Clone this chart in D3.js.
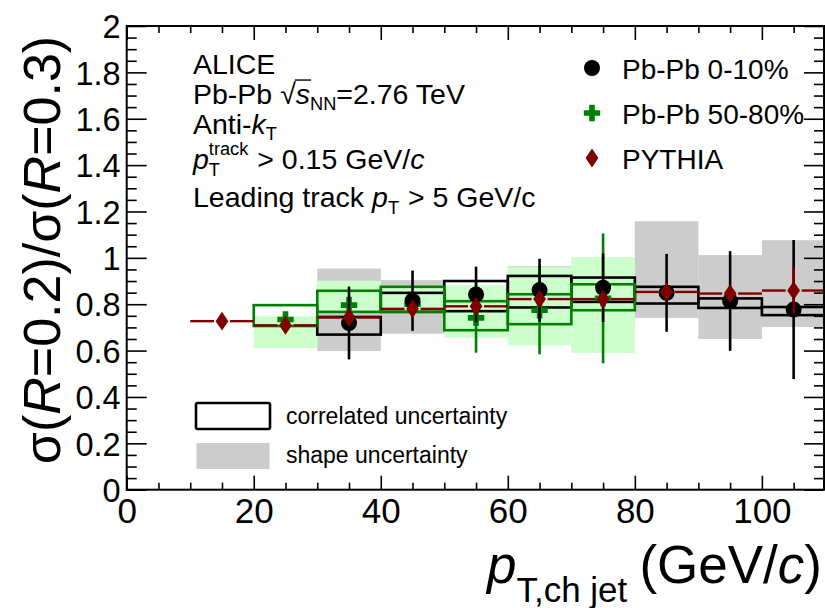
<!DOCTYPE html>
<html><head><meta charset="utf-8">
<script src="https://cdn.jsdelivr.net/npm/d3@7"></script>
<style>
body{margin:0;background:#fff}
svg{display:block}
text{font-family:"Liberation Sans",Arial,Helvetica,sans-serif;fill:#000;white-space:pre}
</style>
</head><body>
<svg id="c" width="825" height="608"></svg>
<script>
// ---------------- data ----------------
const binHalfWidth = 5;
const pythiaPt  = [15, 25, 35, 45, 55, 65, 75, 85, 95, 105];
const pythiaVal = [0.727, 0.709, 0.743, 0.780, 0.791, 0.822, 0.822, 0.853, 0.846, 0.859];
const pythiaErr = [0.006, 0.008, 0.010, 0.010, 0.012, 0.015, 0.015, 0.020, 0.025, 0.100];

const centralPt     = [35, 45, 55, 65, 75, 85, 95, 105];
const centralVal    = [0.719, 0.815, 0.842, 0.861, 0.871, 0.849, 0.814, 0.777];
const centralErr    = [0.157, 0.130, 0.120, 0.135, 0.148, 0.168, 0.215, 0.300];
const centralCorrLo = [0.669, 0.767, 0.770, 0.786, 0.810, 0.803, 0.784, 0.753];
const centralCorrHi = [0.745, 0.849, 0.900, 0.922, 0.915, 0.875, 0.825, 0.788];
const centralShapeLo = [0.598, 0.673, 0.670, 0.700, 0.700, 0.741, 0.650, 0.702];
const centralShapeHi = [0.954, 0.904, 0.870, 0.964, 0.950, 1.158, 1.012, 1.076];

const periphPt     = [25, 35, 45, 55, 65, 75];
const periphVal    = [0.734, 0.796, 0.800, 0.741, 0.774, 0.825];
const periphErr    = [0.030, 0.040, 0.040, 0.150, 0.190, 0.280];
const periphCorrLo = [0.706, 0.767, 0.767, 0.688, 0.714, 0.774];
const periphCorrHi = [0.796, 0.858, 0.875, 0.813, 0.843, 0.886];
const periphShapeLo = [0.611, 0.767, 0.770, 0.656, 0.623, 0.590];
const periphShapeHi = [0.748, 0.901, 0.875, 0.882, 0.960, 1.003];

const xMajorTicks = [0, 20, 40, 60, 80, 100];
const yMajorTicks = [0, 0.2, 0.4, 0.6, 0.8, 1, 1.2, 1.4, 1.6, 1.8, 2];
const legendLabels = ["Pb-Pb 0-10%", "Pb-Pb 50-80%", "PYTHIA"];

// ---------------- setup ----------------
const FONT = '"Liberation Sans",Arial,Helvetica,sans-serif';
const svg = d3.select("#c");
const L = 126.7, R = 824, T = 26, B = 489.7;
const x = d3.scaleLinear().domain([0, 110]).range([L, R + 1.4]);
const y = d3.scaleLinear().domain([0, 2]).range([B, T]);

const cBlack = "#000", cGreen = "#008000", cRed = "#800000";
const cGray = "#cccccc", cLightGreen = "#ccffcc";

const central = centralPt.map((p, i) => ({p, v: centralVal[i], e: centralErr[i], cl: centralCorrLo[i], ch: centralCorrHi[i], sl: centralShapeLo[i], sh: centralShapeHi[i]}));
const periph = periphPt.map((p, i) => ({p, v: periphVal[i], e: periphErr[i], cl: periphCorrLo[i], ch: periphCorrHi[i], sl: periphShapeLo[i], sh: periphShapeHi[i]}));
const pythia = pythiaPt.map((p, i) => ({p, v: pythiaVal[i], e: pythiaErr[i]}));

const plot = svg.append("g");
const bx = d => x(d.p - binHalfWidth), bw = d => x(d.p + binHalfWidth) - x(d.p - binHalfWidth);

// shape uncertainty (gray)
plot.selectAll("rect.shape").data(central).enter().append("rect")
  .attr("x", bx).attr("width", bw)
  .attr("y", d => y(d.sh)).attr("height", d => y(d.sl) - y(d.sh))
  .attr("fill", cGray);
// peripheral fill (light green)
plot.selectAll("rect.pshape").data(periph).enter().append("rect")
  .attr("x", bx).attr("width", bw)
  .attr("y", d => y(d.sh)).attr("height", d => y(d.sl) - y(d.sh))
  .attr("fill", cLightGreen);
// correlated boxes
plot.selectAll("rect.corr").data(central).enter().append("rect")
  .attr("x", bx).attr("width", bw)
  .attr("y", d => y(d.ch)).attr("height", d => y(d.cl) - y(d.ch))
  .attr("fill", "none").attr("stroke", cBlack).attr("stroke-width", 2.6);
plot.selectAll("rect.pcorr").data(periph).enter().append("rect")
  .attr("x", bx).attr("width", bw)
  .attr("y", d => y(d.ch)).attr("height", d => y(d.cl) - y(d.ch))
  .attr("fill", "none").attr("stroke", cGreen).attr("stroke-width", 2.6);

function crossPath(cx, cy, a, t) {
  return `M${cx - t/2},${cy - a}H${cx + t/2}V${cy - t/2}H${cx + a}V${cy + t/2}H${cx + t/2}V${cy + a}H${cx - t/2}V${cy + t/2}H${cx - a}V${cy - t/2}H${cx - t/2}Z`;
}
function diamondPath(cx, cy, w, h) {
  return `M${cx},${cy - h}L${cx + w},${cy}L${cx},${cy + h}L${cx - w},${cy}Z`;
}

// peripheral error bars + markers
plot.selectAll("line.perr").data(periph).enter().append("line")
  .attr("x1", d => x(d.p)).attr("x2", d => x(d.p))
  .attr("y1", d => y(d.v + d.e)).attr("y2", d => y(d.v - d.e))
  .attr("stroke", cGreen).attr("stroke-width", 2.6);
plot.selectAll("path.pm").data(periph).enter().append("path")
  .attr("d", d => crossPath(x(d.p), y(d.v), 8.2, 5.6)).attr("fill", cGreen);

// central error bars + markers
plot.selectAll("line.cerr").data(central).enter().append("line")
  .attr("x1", d => x(d.p)).attr("x2", d => x(d.p))
  .attr("y1", d => y(d.v + d.e)).attr("y2", d => y(d.v - d.e))
  .attr("stroke", cBlack).attr("stroke-width", 2.6);
plot.selectAll("circle.cm").data(central).enter().append("circle")
  .attr("cx", d => x(d.p)).attr("cy", d => y(d.v)).attr("r", 8).attr("fill", cBlack);

// PYTHIA
plot.selectAll("line.pyl").data(pythia).enter().append("line")
  .attr("x1", d => x(d.p - binHalfWidth)).attr("x2", d => x(d.p) - 8)
  .attr("y1", d => y(d.v)).attr("y2", d => y(d.v))
  .attr("stroke", cRed).attr("stroke-width", 2.4);
plot.selectAll("line.pyr").data(pythia).enter().append("line")
  .attr("x1", d => x(d.p) + 8).attr("x2", d => x(d.p + binHalfWidth))
  .attr("y1", d => y(d.v)).attr("y2", d => y(d.v))
  .attr("stroke", cRed).attr("stroke-width", 2.4);
plot.selectAll("line.pyv").data(pythia).enter().append("line")
  .attr("x1", d => x(d.p)).attr("x2", d => x(d.p))
  .attr("y1", d => y(d.v + d.e)).attr("y2", d => y(d.v - d.e))
  .attr("stroke", cRed).attr("stroke-width", 2.4);
plot.selectAll("path.pym").data(pythia).enter().append("path")
  .attr("d", d => diamondPath(x(d.p), y(d.v), 6.4, 9.4)).attr("fill", cRed);

// ---------------- axes ----------------
const axG = svg.append("g");
const xMinor = d3.range(0, 111, 5).filter(v => v % 20 !== 0);
const yMinor = d3.range(0, 41).map(i => i * 0.05).filter(v => Math.abs(v * 5 - Math.round(v * 5)) > 1e-6);

function addAxis(axis, tx, ty) {
  const g = axG.append("g").attr("transform", `translate(${tx},${ty})`).call(axis);
  g.select(".domain").remove();
  g.selectAll(".tick line").attr("stroke", "#000").attr("stroke-width", 1.6);
  return g;
}
addAxis(d3.axisBottom(x).tickValues(xMajorTicks).tickSize(-14).tickFormat(""), 0, B);
addAxis(d3.axisBottom(x).tickValues(xMinor).tickSize(-7).tickFormat(""), 0, B);
addAxis(d3.axisTop(x).tickValues(xMajorTicks).tickSize(-14).tickFormat(""), 0, T);
addAxis(d3.axisTop(x).tickValues(xMinor).tickSize(-7).tickFormat(""), 0, T);
addAxis(d3.axisLeft(y).tickValues(yMajorTicks).tickSize(-20).tickFormat(""), L, 0);
addAxis(d3.axisLeft(y).tickValues(yMinor).tickSize(-10).tickFormat(""), L, 0);
addAxis(d3.axisRight(y).tickValues(yMajorTicks).tickSize(-20).tickFormat(""), R, 0);
addAxis(d3.axisRight(y).tickValues(yMinor).tickSize(-10).tickFormat(""), R, 0);

axG.append("rect").attr("x", L).attr("y", T).attr("width", R - L).attr("height", B - T)
  .attr("fill", "none").attr("stroke", "#000").attr("stroke-width", 2);

// tick labels
const xl = d3.axisBottom(x).tickValues(xMajorTicks).tickSize(0).tickPadding(0).tickFormat(d3.format("d"));
const xlg = axG.append("g").attr("transform", `translate(0,${B})`).call(xl);
xlg.select(".domain").remove();
xlg.selectAll("text").attr("font-size", 35).attr("font-family", FONT).attr("dy", null).attr("y", 33.5).attr("fill", "#000");

const yl = d3.axisLeft(y).tickValues(yMajorTicks).tickSize(0).tickPadding(0).tickFormat(d => d3.format("")(+d.toFixed(1)));
const ylg = axG.append("g").attr("transform", `translate(${L - 6},0)`).call(yl);
ylg.select(".domain").remove();
ylg.selectAll("text").attr("font-size", 32.5).attr("font-family", FONT).attr("dy", "0.36em").attr("x", 0).attr("fill", "#000");

// ---------------- rich text helper ----------------
const cv = document.createElement("canvas").getContext("2d");
function measure(t, fs, it) { cv.font = `${it ? "italic " : ""}${fs}px ${FONT}`; return cv.measureText(t).width; }
function rich(parent, x0, base, segs) {
  let cx = x0;
  segs.forEach(s => {
    const fs = s.fs, px = s.x !== undefined ? s.x : cx;
    parent.append("text").attr("x", px).attr("y", base + (s.dy || 0))
      .attr("xml:space", "preserve")
      .attr("font-size", fs).attr("font-style", s.it ? "italic" : "normal").text(s.t);
    s._x = px; s._w = measure(s.t, fs, s.it);
    if (!s.noadv) cx = px + s._w + (s.gap || 0);
  });
  return cx;
}

// ---------------- info text ----------------
const info = svg.append("g");
const F = 28.5;
const sub = F * 0.64;
rich(info, 193, 74, [{t: "ALICE", fs: F}]);
{
  const segs = [{t: "Pb-Pb ", fs: F}, {t: "√", fs: F}, {t: "s", fs: F, it: true}, {t: "NN", fs: sub, dy: 6}, {t: "=2.76 TeV", fs: F}];
  rich(info, 193, 104, segs);
  const xs0 = segs[1]._x + segs[1]._w - 1, xs1 = segs[2]._x + segs[2]._w + 1;
  info.append("line").attr("x1", xs0).attr("x2", xs1).attr("y1", 104 - F * 0.84).attr("y2", 104 - F * 0.84)
    .attr("stroke", "#000").attr("stroke-width", 1.4);
}
rich(info, 193, 134, [{t: "Anti-", fs: F}, {t: "k", fs: F, it: true}, {t: "T", fs: sub, dy: 6}]);
rich(info, 193, 169, [
  {t: "p", fs: F, it: true},
  {t: "T", fs: sub, dy: 7, noadv: true},
  {t: "track", fs: sub, dy: -14, gap: 1},
  {t: " > 0.15 GeV/", fs: F},
  {t: "c", fs: F, it: true}
]);
rich(info, 193, 207, [{t: "Leading track ", fs: F}, {t: "p", fs: F, it: true}, {t: "T", fs: sub, dy: 7, gap: 1}, {t: " > 5 GeV/c", fs: F}]);

// ---------------- legend ----------------
const leg = svg.append("g");
const legY = [68, 113, 158];
leg.append("circle").attr("cx", 592).attr("cy", legY[0]).attr("r", 8).attr("fill", cBlack);
leg.append("path").attr("d", crossPath(592, legY[1], 8.2, 5.6)).attr("fill", cGreen);
leg.append("path").attr("d", diamondPath(592, legY[2], 6.4, 9.4)).attr("fill", cRed);
legendLabels.forEach((t, i) => {
  leg.append("text").attr("x", 622).attr("y", legY[i] + 10.5).attr("font-size", 28).text(t);
});
leg.append("rect").attr("x", 196).attr("y", 403).attr("width", 74).attr("height", 26)
  .attr("fill", "none").attr("stroke", "#000").attr("stroke-width", 2.6).attr("rx", 1.5);
leg.append("rect").attr("x", 196.5).attr("y", 443).attr("width", 73).attr("height", 26).attr("fill", cGray);
leg.append("text").attr("x", 286).attr("y", 424).attr("font-size", 23).text("correlated uncertainty");
leg.append("text").attr("x", 286).attr("y", 463).attr("font-size", 23).text("shape uncertainty");

// ---------------- axis titles ----------------
const xt = svg.append("g");
{
  const fs = 53;
  const unitW = measure("(GeV/", fs, false) + measure("c", fs, true) + measure(")", fs, false);
  rich(xt, 487, 583, [
    {t: "p", fs, it: true},
    {t: "T,ch jet", fs: fs * 0.66, dy: 19},
    {t: "(GeV/", fs, x: 822 - unitW},
    {t: "c", fs, it: true},
    {t: ")", fs}
  ]);
}
const yt = svg.append("text").attr("transform", "translate(60,250) rotate(-90)")
  .attr("text-anchor", "middle").attr("font-size", 52);
[["σ(", false], ["R", true], ["=0.2)/σ(", false], ["R", true], ["=0.3)", false]].forEach(([t, it]) => {
  yt.append("tspan").attr("font-style", it ? "italic" : "normal").text(t);
});
</script>
</body></html>
